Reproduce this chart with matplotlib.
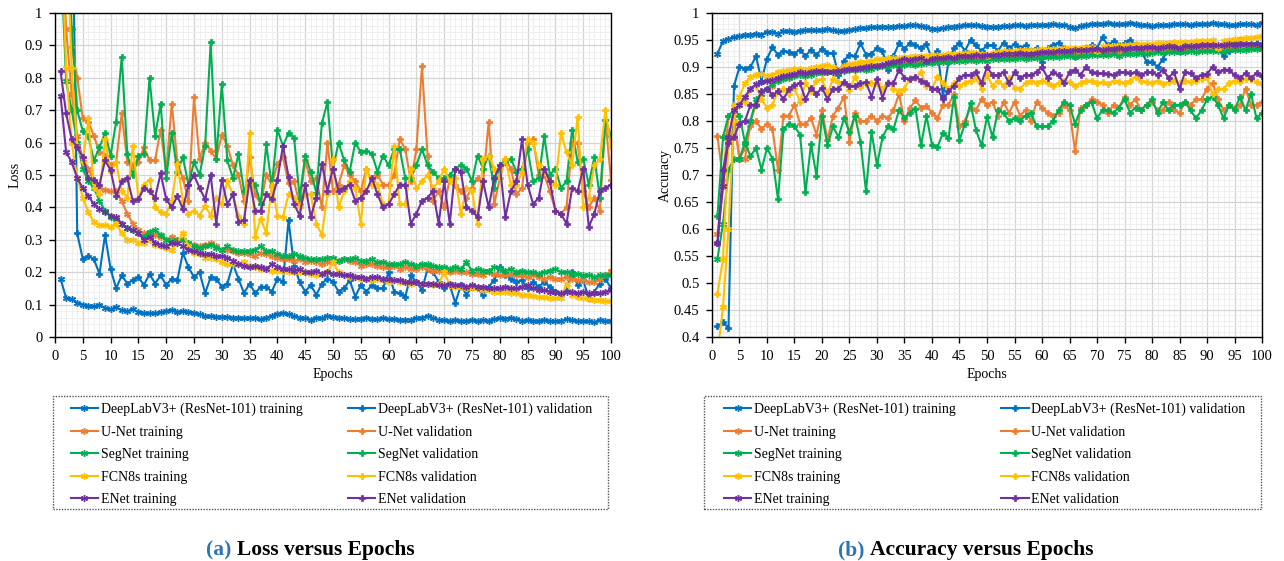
import numpy as np
import matplotlib
matplotlib.use("Agg")
import matplotlib.pyplot as plt
from matplotlib.ticker import MultipleLocator, FuncFormatter
from matplotlib.patches import Rectangle

plt.rcParams['font.family'] = ['Liberation Serif', 'DejaVu Serif']

epochs = np.arange(1, 101)

models = ["DeepLabV3+ (ResNet-101)", "U-Net", "SegNet", "FCN8s", "ENet"]
colors = ["#0070C0", "#ED7D31", "#00B050", "#FFC000", "#7030A0"]

# ---- loss ----
loss_deeplab_tr = [0.18, 0.12, 0.118, 0.105, 0.10, 0.097, 0.095, 0.098, 0.09, 0.085,
                   0.092, 0.082, 0.08, 0.085, 0.078, 0.075, 0.073, 0.074, 0.076, 0.08,
                   0.083, 0.078, 0.08, 0.078, 0.075, 0.07, 0.065, 0.064, 0.063, 0.062,
                   0.062, 0.06, 0.06, 0.058, 0.058, 0.058, 0.055, 0.06, 0.065, 0.072,
                   0.074, 0.07, 0.065, 0.06, 0.058, 0.053, 0.06, 0.058, 0.065, 0.062,
                   0.06, 0.058, 0.056, 0.055, 0.057, 0.06, 0.056, 0.055, 0.058, 0.055,
                   0.055, 0.053, 0.054, 0.053, 0.058, 0.06, 0.065, 0.058, 0.053, 0.052,
                   0.05, 0.052, 0.05, 0.05, 0.053, 0.05, 0.052, 0.05, 0.055, 0.058,
                   0.057, 0.06, 0.055, 0.05, 0.052, 0.05, 0.05, 0.052, 0.05, 0.048,
                   0.05, 0.055, 0.052, 0.05, 0.05, 0.048, 0.045, 0.052, 0.05, 0.05]
loss_deeplab_val = [2.0, 1.8, 1.5, 0.32, 0.24, 0.25, 0.24, 0.195, 0.315, 0.21,
                    0.15, 0.19, 0.165, 0.175, 0.185, 0.16, 0.195, 0.165, 0.19, 0.16,
                    0.18, 0.175, 0.26, 0.215, 0.185, 0.20, 0.135, 0.185, 0.18, 0.155,
                    0.165, 0.225, 0.18, 0.135, 0.165, 0.135, 0.155, 0.155, 0.14, 0.18,
                    0.17, 0.36, 0.22, 0.17, 0.14, 0.16, 0.13, 0.165, 0.18, 0.17,
                    0.14, 0.15, 0.175, 0.125, 0.16, 0.14, 0.16, 0.15, 0.15, 0.20,
                    0.14, 0.135, 0.125, 0.19, 0.17, 0.145, 0.21, 0.20, 0.17, 0.15,
                    0.16, 0.105, 0.16, 0.13, 0.155, 0.15, 0.13, 0.155, 0.175, 0.215,
                    0.19, 0.18, 0.17, 0.175, 0.15, 0.17, 0.155, 0.17, 0.155, 0.14,
                    0.13, 0.145, 0.20, 0.16, 0.175, 0.12, 0.14, 0.165, 0.18, 0.15]
loss_unet_tr = [1.3, 0.95, 0.75, 0.62, 0.55, 0.52, 0.48, 0.46, 0.455, 0.45,
                0.45, 0.42, 0.38, 0.35, 0.33, 0.32, 0.31, 0.315, 0.31, 0.30,
                0.31, 0.30, 0.30, 0.29, 0.285, 0.28, 0.285, 0.29, 0.28, 0.27,
                0.27, 0.265, 0.26, 0.26, 0.255, 0.25, 0.26, 0.255, 0.25, 0.245,
                0.24, 0.24, 0.235, 0.24, 0.23, 0.235, 0.23, 0.225, 0.23, 0.23,
                0.235, 0.24, 0.235, 0.23, 0.22, 0.225, 0.225, 0.22, 0.215, 0.215,
                0.22, 0.21, 0.215, 0.21, 0.21, 0.215, 0.21, 0.205, 0.205, 0.20,
                0.20, 0.205, 0.20, 0.20, 0.195, 0.195, 0.19, 0.20, 0.195, 0.19,
                0.19, 0.195, 0.19, 0.19, 0.185, 0.19, 0.185, 0.18, 0.185, 0.18,
                0.18, 0.185, 0.18, 0.175, 0.175, 0.17, 0.17, 0.18, 0.19, 0.205]
loss_unet_val = [2.0, 1.5, 0.895, 0.80, 0.675, 0.665, 0.62, 0.57, 0.56, 0.53,
                 0.54, 0.69, 0.54, 0.53, 0.54, 0.585, 0.545, 0.545, 0.64, 0.51,
                 0.72, 0.54, 0.49, 0.42, 0.74, 0.55, 0.60, 0.575, 0.55, 0.625,
                 0.59, 0.53, 0.50, 0.42, 0.555, 0.44, 0.41, 0.50, 0.47, 0.535,
                 0.555, 0.475, 0.48, 0.41, 0.545, 0.48, 0.49, 0.40, 0.60, 0.45,
                 0.47, 0.53, 0.50, 0.48, 0.45, 0.52, 0.48, 0.50, 0.47, 0.47,
                 0.50, 0.61, 0.58, 0.48, 0.58, 0.835, 0.56, 0.42, 0.45, 0.40,
                 0.49, 0.47, 0.45, 0.43, 0.46, 0.49, 0.48, 0.665, 0.41, 0.49,
                 0.55, 0.52, 0.44, 0.46, 0.60, 0.61, 0.50, 0.50, 0.45, 0.39,
                 0.38, 0.40, 0.60, 0.60, 0.45, 0.40, 0.43, 0.39, 0.67, 0.485]
loss_segnet_tr = [1.2, 0.79, 0.70, 0.60, 0.52, 0.48, 0.46, 0.42, 0.39, 0.37,
                  0.365, 0.35, 0.335, 0.33, 0.32, 0.31, 0.325, 0.33, 0.315, 0.30,
                  0.295, 0.30, 0.30, 0.29, 0.28, 0.275, 0.28, 0.285, 0.275, 0.27,
                  0.28, 0.27, 0.265, 0.265, 0.265, 0.27, 0.28, 0.265, 0.265, 0.255,
                  0.25, 0.25, 0.255, 0.25, 0.245, 0.24, 0.24, 0.24, 0.245, 0.245,
                  0.235, 0.24, 0.24, 0.245, 0.235, 0.235, 0.24, 0.23, 0.23, 0.225,
                  0.225, 0.225, 0.23, 0.225, 0.22, 0.225, 0.225, 0.22, 0.215, 0.215,
                  0.21, 0.215, 0.21, 0.23, 0.205, 0.21, 0.205, 0.205, 0.215, 0.21,
                  0.205, 0.21, 0.20, 0.205, 0.20, 0.20, 0.195, 0.20, 0.205, 0.21,
                  0.20, 0.20, 0.195, 0.195, 0.19, 0.19, 0.185, 0.19, 0.19, 0.19]
loss_segnet_val = [2.0, 1.4, 0.95, 0.70, 0.635, 0.62, 0.545, 0.585, 0.63, 0.56,
                   0.665, 0.865, 0.565, 0.50, 0.56, 0.565, 0.80, 0.62, 0.72, 0.49,
                   0.63, 0.51, 0.555, 0.47, 0.54, 0.50, 0.59, 0.91, 0.55, 0.78,
                   0.545, 0.49, 0.565, 0.45, 0.48, 0.47, 0.41, 0.595, 0.465, 0.64,
                   0.59, 0.63, 0.615, 0.43, 0.56, 0.51, 0.445, 0.66, 0.725, 0.52,
                   0.60, 0.545, 0.51, 0.60, 0.57, 0.575, 0.565, 0.51, 0.56, 0.53,
                   0.58, 0.58, 0.49, 0.49, 0.53, 0.58, 0.53, 0.51, 0.49, 0.49,
                   0.50, 0.52, 0.53, 0.52, 0.48, 0.56, 0.52, 0.56, 0.46, 0.53,
                   0.54, 0.55, 0.51, 0.52, 0.58, 0.48, 0.49, 0.62, 0.50, 0.52,
                   0.46, 0.48, 0.64, 0.54, 0.55, 0.47, 0.555, 0.43, 0.67, 0.62]
loss_fcn_tr = [1.3, 0.83, 0.60, 0.49, 0.43, 0.385, 0.355, 0.345, 0.345, 0.34,
               0.35, 0.32, 0.30, 0.30, 0.29, 0.29, 0.30, 0.285, 0.28, 0.275,
               0.27, 0.29, 0.32, 0.28, 0.26, 0.255, 0.245, 0.245, 0.24, 0.23,
               0.225, 0.225, 0.225, 0.23, 0.22, 0.215, 0.21, 0.21, 0.205, 0.205,
               0.205, 0.20, 0.20, 0.20, 0.20, 0.195, 0.19, 0.195, 0.20, 0.23,
               0.20, 0.19, 0.185, 0.185, 0.18, 0.18, 0.175, 0.18, 0.175, 0.17,
               0.175, 0.17, 0.17, 0.165, 0.17, 0.165, 0.165, 0.16, 0.165, 0.20,
               0.16, 0.155, 0.155, 0.15, 0.15, 0.15, 0.145, 0.145, 0.14, 0.14,
               0.14, 0.135, 0.135, 0.13, 0.13, 0.128, 0.125, 0.125, 0.12, 0.12,
               0.12, 0.165, 0.13, 0.125, 0.12, 0.118, 0.115, 0.115, 0.112, 0.11]
loss_fcn_val = [2.0, 1.3, 0.83, 0.59, 0.54, 0.675, 0.46, 0.44, 0.61, 0.51,
                0.54, 0.45, 0.43, 0.59, 0.43, 0.47, 0.485, 0.40, 0.385, 0.38,
                0.42, 0.535, 0.42, 0.38, 0.39, 0.375, 0.405, 0.375, 0.43, 0.41,
                0.48, 0.44, 0.375, 0.35, 0.63, 0.31, 0.365, 0.32, 0.47, 0.375,
                0.37, 0.44, 0.43, 0.40, 0.44, 0.44, 0.35, 0.315, 0.44, 0.55,
                0.40, 0.45, 0.48, 0.46, 0.35, 0.52, 0.47, 0.47, 0.41, 0.41,
                0.59, 0.41, 0.41, 0.52, 0.46, 0.48, 0.50, 0.46, 0.48, 0.52,
                0.48, 0.49, 0.38, 0.46, 0.45, 0.35, 0.55, 0.56, 0.52, 0.49,
                0.55, 0.47, 0.47, 0.51, 0.61, 0.60, 0.53, 0.51, 0.48, 0.47,
                0.63, 0.57, 0.53, 0.68, 0.40, 0.43, 0.53, 0.55, 0.70, 0.59]
loss_enet_tr = [0.745, 0.57, 0.54, 0.49, 0.46, 0.435, 0.41, 0.395, 0.385, 0.375,
                0.37, 0.35, 0.335, 0.33, 0.32, 0.30, 0.31, 0.29, 0.285, 0.28,
                0.29, 0.29, 0.28, 0.27, 0.265, 0.26, 0.255, 0.255, 0.25, 0.25,
                0.245, 0.235, 0.225, 0.22, 0.215, 0.22, 0.215, 0.21, 0.225, 0.215,
                0.21, 0.21, 0.205, 0.21, 0.20, 0.20, 0.205, 0.195, 0.20, 0.195,
                0.195, 0.19, 0.19, 0.185, 0.185, 0.18, 0.185, 0.185, 0.18, 0.18,
                0.175, 0.175, 0.17, 0.17, 0.17, 0.165, 0.165, 0.165, 0.16, 0.16,
                0.165, 0.16, 0.16, 0.155, 0.16, 0.155, 0.155, 0.15, 0.15, 0.15,
                0.155, 0.15, 0.15, 0.155, 0.16, 0.15, 0.145, 0.145, 0.14, 0.14,
                0.135, 0.14, 0.14, 0.135, 0.14, 0.135, 0.135, 0.135, 0.14, 0.145]
loss_enet_val = [0.82, 0.69, 0.61, 0.585, 0.555, 0.49, 0.485, 0.47, 0.545, 0.515,
                 0.435, 0.48, 0.49, 0.42, 0.425, 0.46, 0.45, 0.43, 0.505, 0.425,
                 0.40, 0.435, 0.395, 0.47, 0.50, 0.46, 0.425, 0.50, 0.35, 0.485,
                 0.41, 0.44, 0.355, 0.36, 0.485, 0.39, 0.39, 0.44, 0.425, 0.485,
                 0.59, 0.495, 0.41, 0.375, 0.47, 0.37, 0.43, 0.535, 0.45, 0.52,
                 0.45, 0.46, 0.47, 0.42, 0.43, 0.45, 0.49, 0.44, 0.40, 0.41,
                 0.44, 0.47, 0.47, 0.35, 0.38, 0.42, 0.43, 0.45, 0.35, 0.48,
                 0.35, 0.52, 0.51, 0.40, 0.39, 0.37, 0.48, 0.40, 0.49, 0.53,
                 0.37, 0.45, 0.48, 0.61, 0.47, 0.41, 0.43, 0.52, 0.48, 0.39,
                 0.38, 0.35, 0.46, 0.45, 0.52, 0.34, 0.38, 0.45, 0.46, 0.47]

# ---- accuracy ----
acc_deeplab_tr = [0.925, 0.948, 0.952, 0.955, 0.957, 0.96, 0.96, 0.962, 0.96, 0.965,
                  0.965, 0.962, 0.966, 0.967, 0.965, 0.967, 0.968, 0.969, 0.968, 0.969,
                  0.97, 0.968, 0.966, 0.967, 0.969, 0.97, 0.972, 0.972, 0.974, 0.974,
                  0.975, 0.974, 0.975, 0.976, 0.976, 0.977, 0.977, 0.976, 0.974, 0.971,
                  0.97, 0.972, 0.974, 0.975, 0.976, 0.977, 0.978, 0.977, 0.976, 0.975,
                  0.974, 0.975, 0.976, 0.976, 0.977, 0.977, 0.976, 0.977, 0.978, 0.978,
                  0.978, 0.979, 0.978, 0.977, 0.975, 0.972, 0.976, 0.978, 0.979, 0.98,
                  0.98, 0.981, 0.98, 0.979, 0.98, 0.981, 0.98, 0.978, 0.977, 0.976,
                  0.977, 0.978, 0.978, 0.979, 0.979, 0.979, 0.978, 0.979, 0.98, 0.98,
                  0.981, 0.98, 0.979, 0.977, 0.978, 0.979, 0.98, 0.979, 0.978, 0.981]
acc_deeplab_val = [0.42, 0.427, 0.417, 0.865, 0.90, 0.897, 0.90, 0.92, 0.875, 0.915,
                   0.937, 0.922, 0.93, 0.928, 0.925, 0.932, 0.92, 0.932, 0.922, 0.934,
                   0.926, 0.926, 0.885, 0.912, 0.922, 0.92, 0.944, 0.923, 0.925, 0.935,
                   0.93, 0.895, 0.92, 0.944, 0.934, 0.944, 0.94, 0.935, 0.942, 0.915,
                   0.93, 0.845, 0.91, 0.935, 0.944, 0.93, 0.95, 0.94, 0.93, 0.94,
                   0.94, 0.93, 0.945, 0.935, 0.942, 0.935, 0.94, 0.93, 0.935, 0.91,
                   0.935, 0.94, 0.945, 0.935, 0.93, 0.92, 0.93, 0.935, 0.94, 0.935,
                   0.955, 0.94, 0.948, 0.94, 0.945, 0.95, 0.94, 0.93, 0.91, 0.91,
                   0.90, 0.915, 0.935, 0.94, 0.93, 0.94, 0.935, 0.94, 0.94, 0.945,
                   0.94, 0.935, 0.92, 0.93, 0.945, 0.95, 0.94, 0.94, 0.945, 0.94]
acc_unet_tr = [0.59, 0.68, 0.78, 0.80, 0.73, 0.73, 0.80, 0.83, 0.85, 0.86,
               0.865, 0.875, 0.88, 0.882, 0.885, 0.887, 0.888, 0.89, 0.89, 0.892,
               0.893, 0.894, 0.895, 0.896, 0.897, 0.898, 0.90, 0.901, 0.902, 0.903,
               0.904, 0.905, 0.905, 0.906, 0.907, 0.908, 0.908, 0.909, 0.91, 0.91,
               0.911, 0.912, 0.912, 0.913, 0.914, 0.915, 0.915, 0.916, 0.917, 0.917,
               0.917, 0.916, 0.918, 0.919, 0.92, 0.92, 0.921, 0.921, 0.922, 0.923,
               0.922, 0.924, 0.923, 0.924, 0.925, 0.924, 0.926, 0.926, 0.927, 0.928,
               0.928, 0.927, 0.929, 0.929, 0.93, 0.93, 0.931, 0.93, 0.931, 0.932,
               0.932, 0.933, 0.932, 0.933, 0.934, 0.933, 0.934, 0.935, 0.935, 0.936,
               0.935, 0.936, 0.937, 0.937, 0.937, 0.938, 0.938, 0.939, 0.939, 0.94]
acc_unet_val = [0.772, 0.69, 0.81, 0.81, 0.73, 0.75, 0.79, 0.80, 0.785, 0.795,
                0.785, 0.71, 0.81, 0.81, 0.83, 0.795, 0.795, 0.805, 0.775, 0.82,
                0.765, 0.81, 0.825, 0.845, 0.762, 0.815, 0.80, 0.80, 0.81, 0.80,
                0.81, 0.805, 0.82, 0.85, 0.80, 0.825, 0.838, 0.825, 0.828, 0.815,
                0.805, 0.83, 0.83, 0.85, 0.79, 0.80, 0.825, 0.82, 0.84, 0.83,
                0.835, 0.81, 0.835, 0.815, 0.835, 0.81, 0.82, 0.80, 0.835, 0.825,
                0.815, 0.81, 0.815, 0.83, 0.82, 0.745, 0.825, 0.83, 0.84, 0.835,
                0.83, 0.815, 0.83, 0.825, 0.845, 0.83, 0.84, 0.82, 0.83, 0.835,
                0.82, 0.82, 0.835, 0.82, 0.815, 0.835, 0.83, 0.84, 0.84, 0.86,
                0.87, 0.84, 0.82, 0.83, 0.825, 0.83, 0.86, 0.83, 0.83, 0.835]
acc_segnet_tr = [0.545, 0.61, 0.71, 0.73, 0.73, 0.76, 0.80, 0.84, 0.85, 0.86,
                 0.868, 0.874, 0.878, 0.88, 0.883, 0.885, 0.884, 0.886, 0.888, 0.889,
                 0.89, 0.891, 0.89, 0.892, 0.894, 0.895, 0.896, 0.895, 0.897, 0.90,
                 0.901, 0.902, 0.903, 0.902, 0.904, 0.905, 0.904, 0.906, 0.907, 0.908,
                 0.909, 0.91, 0.909, 0.911, 0.912, 0.912, 0.913, 0.912, 0.913, 0.912,
                 0.914, 0.914, 0.915, 0.914, 0.915, 0.916, 0.915, 0.917, 0.917, 0.918,
                 0.918, 0.919, 0.918, 0.92, 0.92, 0.919, 0.921, 0.921, 0.922, 0.922,
                 0.923, 0.922, 0.924, 0.92, 0.925, 0.924, 0.925, 0.926, 0.924, 0.926,
                 0.927, 0.926, 0.927, 0.927, 0.928, 0.928, 0.929, 0.928, 0.929, 0.93,
                 0.929, 0.93, 0.93, 0.931, 0.931, 0.932, 0.932, 0.933, 0.933, 0.934]
acc_segnet_val = [0.625, 0.77, 0.81, 0.82, 0.81, 0.76, 0.735, 0.75, 0.71, 0.75,
                  0.73, 0.655, 0.785, 0.795, 0.79, 0.775, 0.668, 0.757, 0.698, 0.81,
                  0.755, 0.79, 0.77, 0.805, 0.78, 0.81, 0.762, 0.67, 0.78, 0.718,
                  0.77, 0.79, 0.785, 0.82, 0.805, 0.815, 0.823, 0.755, 0.81, 0.755,
                  0.752, 0.778, 0.768, 0.845, 0.765, 0.795, 0.833, 0.783, 0.755, 0.808,
                  0.77, 0.82, 0.815, 0.80, 0.805, 0.80, 0.81, 0.815, 0.79, 0.79,
                  0.79, 0.80, 0.82, 0.835, 0.83, 0.795, 0.82, 0.83, 0.835, 0.805,
                  0.82, 0.82, 0.815, 0.825, 0.84, 0.815, 0.825, 0.82, 0.83, 0.84,
                  0.815, 0.835, 0.82, 0.83, 0.83, 0.835, 0.82, 0.805, 0.82, 0.84,
                  0.845, 0.83, 0.805, 0.83, 0.82, 0.845, 0.82, 0.85, 0.805, 0.815]
acc_fcn_tr = [0.37, 0.455, 0.60, 0.80, 0.845, 0.87, 0.882, 0.886, 0.887, 0.884,
              0.886, 0.89, 0.892, 0.894, 0.896, 0.897, 0.895, 0.898, 0.90, 0.902,
              0.904, 0.90, 0.895, 0.902, 0.905, 0.907, 0.909, 0.91, 0.912, 0.914,
              0.915, 0.916, 0.917, 0.916, 0.918, 0.919, 0.92, 0.921, 0.921, 0.922,
              0.922, 0.923, 0.924, 0.924, 0.925, 0.926, 0.927, 0.926, 0.925, 0.92,
              0.926, 0.928, 0.929, 0.929, 0.93, 0.931, 0.931, 0.932, 0.932, 0.933,
              0.933, 0.934, 0.934, 0.935, 0.935, 0.936, 0.936, 0.937, 0.937, 0.93,
              0.938, 0.939, 0.939, 0.94, 0.941, 0.941, 0.942, 0.942, 0.943, 0.943,
              0.944, 0.944, 0.945, 0.946, 0.946, 0.947, 0.947, 0.948, 0.949, 0.949,
              0.95, 0.935, 0.948, 0.95, 0.951, 0.952, 0.953, 0.954, 0.955, 0.957]
acc_fcn_val = [0.48, 0.545, 0.76, 0.83, 0.83, 0.835, 0.86, 0.865, 0.84, 0.825,
               0.83, 0.855, 0.86, 0.85, 0.862, 0.835, 0.87, 0.855, 0.875, 0.877,
               0.85, 0.878, 0.873, 0.87, 0.858, 0.882, 0.863, 0.868, 0.87, 0.87,
               0.86, 0.872, 0.86, 0.855, 0.86, 0.88, 0.88, 0.89, 0.865, 0.86,
               0.882, 0.87, 0.86, 0.87, 0.865, 0.87, 0.875, 0.88, 0.86, 0.885,
               0.865, 0.875, 0.865, 0.88, 0.862, 0.86, 0.87, 0.875, 0.87, 0.875,
               0.87, 0.865, 0.87, 0.875, 0.872, 0.865, 0.87, 0.875, 0.875, 0.87,
               0.872, 0.868, 0.875, 0.873, 0.87, 0.875, 0.882, 0.875, 0.872, 0.87,
               0.875, 0.868, 0.872, 0.875, 0.87, 0.875, 0.872, 0.875, 0.878, 0.882,
               0.85, 0.86, 0.86, 0.87, 0.875, 0.872, 0.878, 0.878, 0.872, 0.868]
acc_enet_tr = [0.575, 0.68, 0.77, 0.82, 0.83, 0.845, 0.86, 0.868, 0.872, 0.875,
               0.876, 0.88, 0.884, 0.885, 0.887, 0.89, 0.888, 0.891, 0.892, 0.893,
               0.891, 0.891, 0.893, 0.895, 0.896, 0.897, 0.899, 0.90, 0.901, 0.902,
               0.904, 0.907, 0.91, 0.912, 0.914, 0.913, 0.915, 0.916, 0.912, 0.915,
               0.916, 0.917, 0.918, 0.917, 0.92, 0.921, 0.92, 0.922, 0.921, 0.922,
               0.922, 0.923, 0.924, 0.925, 0.925, 0.926, 0.925, 0.925, 0.926, 0.927,
               0.928, 0.928, 0.929, 0.93, 0.93, 0.931, 0.931, 0.932, 0.933, 0.933,
               0.932, 0.933, 0.934, 0.935, 0.934, 0.935, 0.936, 0.936, 0.937, 0.937,
               0.936, 0.937, 0.938, 0.937, 0.936, 0.938, 0.939, 0.939, 0.94, 0.94,
               0.941, 0.94, 0.941, 0.942, 0.941, 0.942, 0.942, 0.943, 0.942, 0.941]
acc_enet_val = [0.575, 0.71, 0.76, 0.77, 0.795, 0.80, 0.83, 0.83, 0.855, 0.86,
                0.848, 0.855, 0.84, 0.86, 0.866, 0.87, 0.84, 0.862, 0.85, 0.862,
                0.84, 0.86, 0.86, 0.872, 0.865, 0.865, 0.87, 0.872, 0.845, 0.877,
                0.843, 0.87, 0.87, 0.895, 0.88, 0.877, 0.882, 0.875, 0.87, 0.86,
                0.86, 0.84, 0.855, 0.865, 0.88, 0.885, 0.885, 0.89, 0.87, 0.90,
                0.885, 0.885, 0.89, 0.87, 0.89, 0.88, 0.885, 0.885, 0.89, 0.90,
                0.88, 0.89, 0.885, 0.87, 0.89, 0.895, 0.885, 0.90, 0.89, 0.888,
                0.888, 0.887, 0.885, 0.89, 0.89, 0.888, 0.89, 0.885, 0.89, 0.89,
                0.885, 0.895, 0.88, 0.89, 0.86, 0.89, 0.888, 0.88, 0.885, 0.887,
                0.90, 0.89, 0.895, 0.895, 0.885, 0.88, 0.888, 0.88, 0.888, 0.883]

loss_tr = [loss_deeplab_tr, loss_unet_tr, loss_segnet_tr, loss_fcn_tr, loss_enet_tr]
loss_val = [loss_deeplab_val, loss_unet_val, loss_segnet_val, loss_fcn_val, loss_enet_val]
acc_tr = [acc_deeplab_tr, acc_unet_tr, acc_segnet_tr, acc_fcn_tr, acc_enet_tr]
acc_val = [acc_deeplab_val, acc_unet_val, acc_segnet_val, acc_fcn_val, acc_enet_val]

W, H = 1284, 561
fig = plt.figure(figsize=(W/100, H/100), dpi=100)
ax1 = fig.add_axes([55/W, 1-337/H, 556/W, 324/H])
ax2 = fig.add_axes([712/W, 1-337/H, 550/W, 324/H])

star = (6, 2, 0)


def draw(ax, tr, val, ylim, ymajor, yminor, ylabel, ylab_x, box_x0, box_x1, leg_x):
    h_tr, h_val = [], []
    for i in range(5):
        l1, = ax.plot(epochs, tr[i], color=colors[i], marker=star, ms=5, mew=1.0,
                      lw=1.5, label=models[i] + " training")
        l2, = ax.plot(epochs, val[i], color=colors[i], marker='P', ms=5, mew=0.5,
                      lw=1.5, label=models[i] + " validation")
        h_tr.append(l1)
        h_val.append(l2)
    ax.set_xlim(0, 100)
    ax.set_ylim(*ylim)
    ax.xaxis.set_major_locator(MultipleLocator(5))
    ax.xaxis.set_minor_locator(MultipleLocator(1))
    ax.yaxis.set_major_locator(MultipleLocator(ymajor))
    ax.yaxis.set_minor_locator(MultipleLocator(yminor))
    ax.grid(which='major', color='#d4d4d4', lw=0.9)
    ax.grid(which='minor', color='#ececec', lw=0.6)
    ax.set_axisbelow(True)
    ax.tick_params(which='major', direction='out', length=4, width=1.0,
                   labelsize=10.5, pad=5)
    ax.tick_params(which='minor', length=0)
    ax.set_xlabel("Epochs", fontsize=10, labelpad=4)
    ax.set_ylabel(ylabel, fontsize=10)
    ax.yaxis.set_label_coords(ylab_x, 0.5)
    for s in ax.spines.values():
        s.set_linewidth(1.0)

    # legend below the axes, in a dotted box
    hs = h_tr + h_val
    fig.legend(hs, [h.get_label() for h in hs], ncol=2, loc='upper left',
               bbox_to_anchor=(leg_x/W, 1-402.5/H), bbox_transform=fig.transFigure,
               fontsize=10, frameon=False, handlelength=1.95, handletextpad=0.2,
               labelspacing=0.69, columnspacing=3.3, borderpad=0, borderaxespad=0)
    fig.patches.append(Rectangle((box_x0/W, 1-509/H), (box_x1-box_x0)/W, 113/H,
                                 transform=fig.transFigure, fill=False,
                                 edgecolor='#555555', linestyle=(0, (1, 1)), lw=1.0))


draw(ax1, loss_tr, loss_val, (0, 1), 0.1, 0.02, "Loss", -0.061, 52.7, 608, 70.7)
ax1.yaxis.set_major_formatter(FuncFormatter(lambda v, p: "%g" % round(v, 2)))
draw(ax2, acc_tr, acc_val, (0.4, 1), 0.05, 0.01, "Accuracy", -0.073, 704, 1261, 724)
ax2.yaxis.set_major_formatter(FuncFormatter(lambda v, p: "%g" % round(v, 3)))

cap_blue = '#2E74B5'
cap_kw = dict(fontsize=15.5, fontweight='bold', va='baseline')
fig.text(206/W, 1-555/H, "(a)", color=cap_blue, **cap_kw)
fig.text(237/W, 1-555/H, "Loss versus Epochs", **cap_kw)
fig.text(838/W, 1-555/H, "(b)", color=cap_blue, **cap_kw)
fig.text(870/W, 1-555/H, "Accuracy versus Epochs", **cap_kw)

fig.savefig("out.png", dpi=100)
